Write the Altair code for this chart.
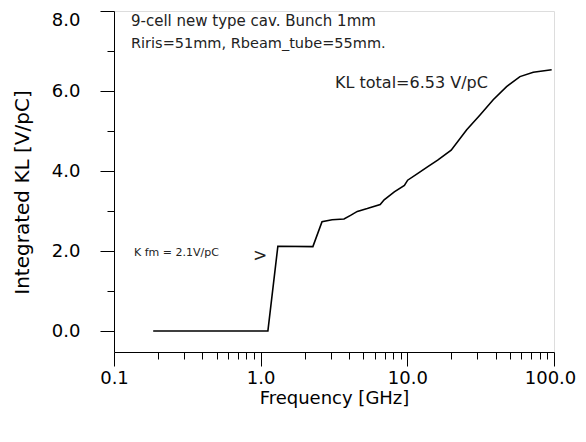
import altair as alt
import pandas as pd

freq = [0.185, 1.12, 1.31, 2.27, 2.62, 3.07, 3.70, 4.10, 4.56, 5.33, 6.53, 6.95,
        8.15, 9.55, 10.05, 11.8, 13.8, 16.1, 19.9, 25.4, 31.3, 38.5, 47.5, 58.6, 72.2, 96.4]
kl = [0.0, 0.0, 2.12, 2.11, 2.73, 2.78, 2.80, 2.89, 2.99, 3.06, 3.16, 3.28,
      3.48, 3.64, 3.77, 3.94, 4.11, 4.27, 4.52, 5.03, 5.40, 5.78, 6.11, 6.36, 6.47, 6.53]

x_ticks = [0.1, 0.2, 0.3, 0.4, 0.5, 0.6, 0.7, 0.8, 0.9,
           1, 2, 3, 4, 5, 6, 7, 8, 9,
           10, 20, 30, 40, 50, 60, 70, 80, 90, 100]
y_ticks = [0, 1, 2, 3, 4, 5, 6, 7, 8]

df = pd.DataFrame({"f": freq, "kl": kl})

FONT = "DejaVu Sans"

x_major_test = "abs(log(datum.value)/LN10 - round(log(datum.value)/LN10)) < 1e-6"
y_major_test = "datum.value % 2 == 0"

x_axis = alt.Axis(
    values=x_ticks,
    labelExpr=f"({x_major_test}) ? format(datum.value, '.1f') : ''",
    tickSize={"condition": {"test": x_major_test, "value": 14}, "value": 7},
    labelOffset={"condition": {"test": "datum.value >= 99", "value": -4}, "value": 0},
    tickColor="black", domainColor="black", grid=False,
    labelFont=FONT, labelFontSize=18, labelColor="black", labelPadding=3,
    labelFlush=False, labelOverlap=False,
    title="Frequency [GHz]", titleFont=FONT, titleFontSize=18, titleFontWeight="normal",
    titleColor="black", titleY=46, titleBaseline="middle",
)
y_axis = alt.Axis(
    values=y_ticks,
    labelExpr=f"({y_major_test}) ? format(datum.value, '.1f') : ''",
    tickSize={"condition": {"test": y_major_test, "value": 14}, "value": 7},
    tickColor="black", domainColor="black", grid=False,
    labelFont=FONT, labelFontSize=18, labelColor="black", labelPadding=20,
    labelFlush=True, labelOverlap=False,
    title="Integrated KL [V/pC]", titleFont=FONT, titleFontSize=20, titleFontWeight="normal",
    titleColor="black", titleX=-92, titleY=181, titleBaseline="middle", titleAngle=270,
)

line = alt.Chart(df).mark_line(color="black", strokeWidth=1.6, clip=False).encode(
    x=alt.X("f:Q", scale=alt.Scale(type="log", domain=[0.1, 100]), axis=x_axis),
    y=alt.Y("kl:Q", scale=alt.Scale(domain=[-0.525, 8], nice=False, zero=False), axis=y_axis),
)

def label(text, x, y, size, align="left"):
    return alt.Chart(pd.DataFrame({"t": [text]})).mark_text(
        font=FONT, fontSize=size, color="#222", align=align, baseline="middle"
    ).encode(text="t:N", x=alt.value(x), y=alt.value(y))

texts = [
    label("9-cell new type cav. Bunch 1mm", 17, 10, 15),
    label("Riris=51mm, Rbeam_tube=55mm.", 17, 33, 14.5),
    label("KL total=6.53 V/pC", 221, 72, 16),
    label("K fm = 2.1V/pC", 20, 242, 11),
    label(">", 139, 245, 17),
]

chart = alt.layer(line, *texts).properties(
    width=440, height=341,
    autosize=alt.AutoSizeParams(type="none"),
    padding={"left": 106, "top": 3, "right": 24, "bottom": 80},
).configure_view(stroke=None).configure(background="white")

chart.save("out.html", embed_options={"renderer": "svg", "actions": False})
